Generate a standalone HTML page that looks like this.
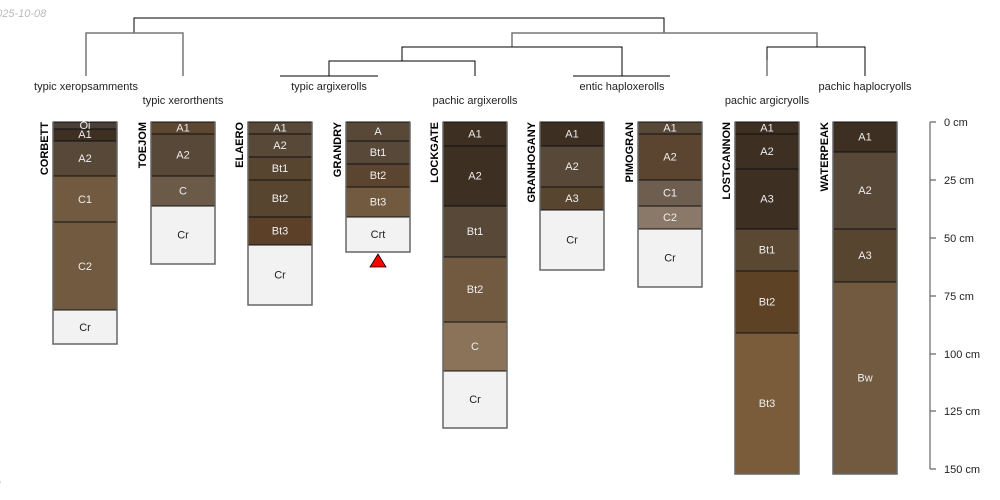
<!DOCTYPE html>
<html><head><meta charset="utf-8"><style>
html,body{margin:0;padding:0;background:#fff;}
svg{display:block;font-family:"Liberation Sans",sans-serif;}
rect{stroke:#111;stroke-width:1;}
.t{font-size:11px;fill:#eee;text-anchor:middle;}
.tl{font-size:11px;fill:#222;text-anchor:middle;}
.n{font-size:11px;font-weight:bold;fill:#000;text-anchor:end;}
.c{font-size:11px;fill:#222;text-anchor:middle;}
.d{stroke:#000;fill:none;stroke-width:1;}
.g{stroke:#777;fill:none;stroke-width:1.5;}
.o{fill:none;stroke:#666;stroke-width:1.5;}
</style></head><body>
<svg width="1000" height="500" viewBox="0 0 1000 500">
<text x="-10" y="17" font-size="11" font-style="italic" fill="#bbb">2025-10-08</text>
<text x="-2" y="489" font-size="11" font-style="italic" fill="#bbb">l</text>
<path class="d" d="M134 33V18H664V33"/>
<path class="g" d="M86 76V33H183V76"/>
<path class="g" d="M512 47V33H817V47"/>
<path class="d" d="M402 61V47H622V76"/>
<path class="d" d="M329 76V61H475V76"/>
<path class="d" d="M280 76H378"/>
<path class="d" d="M573 76H670"/>
<path class="d" d="M767 76V47H865V76"/>
<path class="g" d="M767 76V60"/>
<g class="c">
<text x="86" y="90">typic xeropsamments</text>
<text x="183" y="104">typic xerorthents</text>
<text x="329" y="90">typic argixerolls</text>
<text x="475" y="104">pachic argixerolls</text>
<text x="622" y="90">entic haploxerolls</text>
<text x="767" y="104">pachic argicryolls</text>
<text x="865" y="90">pachic haplocryolls</text>
</g>

<!-- CORBETT -->
<rect x="53" y="122" width="64" height="7" fill="#4a4038"/>
<rect x="53" y="129" width="64" height="12" fill="#3d2f22"/>
<rect x="53" y="141" width="64" height="35" fill="#574838"/>
<rect x="53" y="176" width="64" height="46" fill="#715a40"/>
<rect x="53" y="222" width="64" height="88" fill="#715a40"/>
<rect x="53" y="310" width="64" height="34" fill="#f2f2f2"/>
<path class="o" d="M53 122V344H117V122"/>
<text class="t" x="85" y="129">Oi</text>
<text class="t" x="85" y="138">A1</text>
<text class="t" x="85" y="162">A2</text>
<text class="t" x="85" y="203">C1</text>
<text class="t" x="85" y="270">C2</text>
<text class="tl" x="85" y="331">Cr</text>
<text class="n" transform="translate(48,122) rotate(-90)">CORBETT</text>

<!-- TOEJOM -->
<rect x="151" y="122" width="64" height="12" fill="#5e4730"/>
<rect x="151" y="134" width="64" height="42" fill="#574838"/>
<rect x="151" y="176" width="64" height="30" fill="#6b5a48"/>
<rect x="151" y="206" width="64" height="58" fill="#f2f2f2"/>
<path class="o" d="M151 122V264H215V122"/>
<text class="t" x="183" y="131.5">A1</text>
<text class="t" x="183" y="158.5">A2</text>
<text class="t" x="183" y="194.5">C</text>
<text class="tl" x="183" y="238.5">Cr</text>
<text class="n" transform="translate(146,122) rotate(-90)">TOEJOM</text>

<!-- ELAERO -->
<rect x="248" y="122" width="64" height="12" fill="#574838"/>
<rect x="248" y="134" width="64" height="23" fill="#574838"/>
<rect x="248" y="157" width="64" height="23" fill="#574530"/>
<rect x="248" y="180" width="64" height="37" fill="#574530"/>
<rect x="248" y="217" width="64" height="28" fill="#5c4128"/>
<rect x="248" y="245" width="64" height="60" fill="#f2f2f2"/>
<path class="o" d="M248 122V305H312V122"/>
<text class="t" x="280" y="131.5">A1</text>
<text class="t" x="280" y="149">A2</text>
<text class="t" x="280" y="172">Bt1</text>
<text class="t" x="280" y="202">Bt2</text>
<text class="t" x="280" y="234.5">Bt3</text>
<text class="tl" x="280" y="278.5">Cr</text>
<text class="n" transform="translate(243,122) rotate(-90)">ELAERO</text>

<!-- GRANDRY -->
<rect x="346" y="122" width="64" height="19" fill="#574838"/>
<rect x="346" y="141" width="64" height="23" fill="#574838"/>
<rect x="346" y="164" width="64" height="23" fill="#5c4530"/>
<rect x="346" y="187" width="64" height="30" fill="#715a40"/>
<rect x="346" y="217" width="64" height="35" fill="#f2f2f2"/>
<path class="o" d="M346 122V252H410V122"/>
<text class="t" x="378" y="135">A</text>
<text class="t" x="378" y="156">Bt1</text>
<text class="t" x="378" y="179">Bt2</text>
<text class="t" x="378" y="205.5">Bt3</text>
<text class="tl" x="378" y="238">Crt</text>
<text class="n" transform="translate(341,122) rotate(-90)">GRANDRY</text>
<polygon points="378,254 370,267 386,267" fill="#f00" stroke="#000" stroke-width="0.8"/>

<!-- LOCKGATE -->
<rect x="443" y="122" width="64" height="24" fill="#3d2f22"/>
<rect x="443" y="146" width="64" height="60" fill="#3d2f22"/>
<rect x="443" y="206" width="64" height="51" fill="#574838"/>
<rect x="443" y="257" width="64" height="65" fill="#715a40"/>
<rect x="443" y="322" width="64" height="49" fill="#8a7358"/>
<rect x="443" y="371" width="64" height="57" fill="#f2f2f2"/>
<path class="o" d="M443 122V428H507V122"/>
<text class="t" x="475" y="137.5">A1</text>
<text class="t" x="475" y="179.5">A2</text>
<text class="t" x="475" y="235">Bt1</text>
<text class="t" x="475" y="293">Bt2</text>
<text class="t" x="475" y="350">C</text>
<text class="tl" x="475" y="403">Cr</text>
<text class="n" transform="translate(438,122) rotate(-90)">LOCKGATE</text>

<!-- GRANHOGANY -->
<rect x="540" y="122" width="64" height="24" fill="#3d2f22"/>
<rect x="540" y="146" width="64" height="41" fill="#574838"/>
<rect x="540" y="187" width="64" height="23" fill="#574530"/>
<rect x="540" y="210" width="64" height="60" fill="#f2f2f2"/>
<path class="o" d="M540 122V270H604V122"/>
<text class="t" x="572" y="137.5">A1</text>
<text class="t" x="572" y="170">A2</text>
<text class="t" x="572" y="202">A3</text>
<text class="tl" x="572" y="243.5">Cr</text>
<text class="n" transform="translate(535,122) rotate(-90)">GRANHOGANY</text>

<!-- PIMOGRAN -->
<rect x="638" y="122" width="64" height="12" fill="#574838"/>
<rect x="638" y="134" width="64" height="46" fill="#5c4530"/>
<rect x="638" y="180" width="64" height="26" fill="#6e5e50"/>
<rect x="638" y="206" width="64" height="23" fill="#8a7868"/>
<rect x="638" y="229" width="64" height="58" fill="#f2f2f2"/>
<path class="o" d="M638 122V287H702V122"/>
<text class="t" x="670" y="131.5">A1</text>
<text class="t" x="670" y="160.5">A2</text>
<text class="t" x="670" y="196.5">C1</text>
<text class="t" x="670" y="221">C2</text>
<text class="tl" x="670" y="261.5">Cr</text>
<text class="n" transform="translate(633,122) rotate(-90)">PIMOGRAN</text>

<!-- LOSTCANNON -->
<rect x="735" y="122" width="64" height="12" fill="#3d2f22"/>
<rect x="735" y="134" width="64" height="35" fill="#3d2f22"/>
<rect x="735" y="169" width="64" height="60" fill="#3d2f22"/>
<rect x="735" y="229" width="64" height="42" fill="#5a4833"/>
<rect x="735" y="271" width="64" height="62" fill="#5e4225"/>
<rect x="735" y="333" width="64" height="141" fill="#7a5c3a"/>
<path class="o" d="M735 122V474H799V122"/>
<text class="t" x="767" y="131.5">A1</text>
<text class="t" x="767" y="155">A2</text>
<text class="t" x="767" y="202.5">A3</text>
<text class="t" x="767" y="253.5">Bt1</text>
<text class="t" x="767" y="305.5">Bt2</text>
<text class="t" x="767" y="407">Bt3</text>
<text class="n" transform="translate(730,122) rotate(-90)">LOSTCANNON</text>

<!-- WATERPEAK -->
<rect x="833" y="122" width="64" height="30" fill="#3d2f22"/>
<rect x="833" y="152" width="64" height="77" fill="#574838"/>
<rect x="833" y="229" width="64" height="53" fill="#574530"/>
<rect x="833" y="282" width="64" height="192" fill="#715a40"/>
<path class="o" d="M833 122V474H897V122"/>
<text class="t" x="865" y="140.5">A1</text>
<text class="t" x="865" y="194">A2</text>
<text class="t" x="865" y="259">A3</text>
<text class="t" x="865" y="381.5">Bw</text>
<text class="n" transform="translate(828,122) rotate(-90)">WATERPEAK</text>

<path d="M930 122V469M930 122h6M930 180h6M930 238h6M930 296h6M930 354h6M930 411h6M930 469h6" stroke="#666" stroke-width="1.2" fill="none"/>
<g font-size="11" fill="#222">
<text x="944" y="126">0 cm</text>
<text x="944" y="184">25 cm</text>
<text x="944" y="242">50 cm</text>
<text x="944" y="300">75 cm</text>
<text x="944" y="358">100 cm</text>
<text x="944" y="415">125 cm</text>
<text x="944" y="473">150 cm</text>
</g>
</svg>
</body></html>
